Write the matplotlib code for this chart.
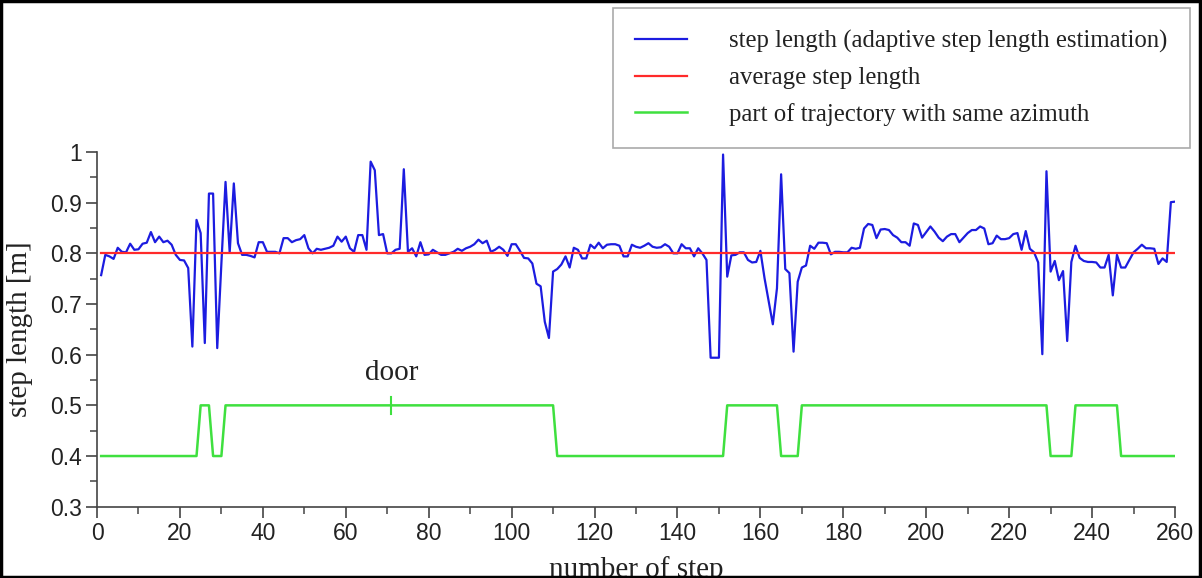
import matplotlib
matplotlib.use("Agg")
import matplotlib.pyplot as plt
from matplotlib.ticker import MultipleLocator, FuncFormatter
from matplotlib.patches import Rectangle

# ---- data ----
steps = list(range(1, 261))
step_length = [
    0.757, 0.797, 0.794, 0.789, 0.811, 0.803, 0.802, 0.819, 0.807, 0.808,
    0.819, 0.821, 0.842, 0.822, 0.833, 0.822, 0.825, 0.817, 0.797, 0.787,
    0.786, 0.771, 0.616, 0.866, 0.840, 0.623, 0.918, 0.918, 0.613, 0.780,
    0.941, 0.802, 0.938, 0.820, 0.797, 0.797, 0.795, 0.792, 0.822, 0.822,
    0.803, 0.803, 0.803, 0.800, 0.830, 0.830, 0.822, 0.826, 0.828, 0.836,
    0.810,
    0.800, 0.809, 0.807, 0.809, 0.811, 0.815, 0.833, 0.823, 0.833, 0.810,
    0.803, 0.836, 0.836, 0.807, 0.981, 0.964, 0.836, 0.838, 0.800, 0.800,
    0.807, 0.809, 0.966, 0.803, 0.810, 0.794, 0.822, 0.797, 0.798, 0.807,
    0.802, 0.797, 0.797, 0.800, 0.803, 0.809, 0.805, 0.810, 0.813, 0.818,
    0.827, 0.820, 0.825, 0.803, 0.807, 0.813, 0.807, 0.795, 0.818, 0.818,
    0.805, 0.791,
    0.790, 0.780, 0.740, 0.735, 0.665, 0.633, 0.764, 0.769, 0.778, 0.794,
    0.772, 0.811, 0.807, 0.790, 0.790, 0.817, 0.810, 0.821, 0.810, 0.817,
    0.818, 0.818, 0.815, 0.794, 0.794, 0.817, 0.813, 0.811, 0.815, 0.820,
    0.813, 0.811, 0.812, 0.818, 0.813, 0.800, 0.800, 0.818, 0.810, 0.810,
    0.794, 0.810, 0.800, 0.787, 0.594, 0.594, 0.594, 0.995, 0.754, 0.796,
    0.797, 0.802,
    0.802, 0.787, 0.782, 0.783, 0.805, 0.751, 0.705, 0.660, 0.731, 0.956,
    0.769, 0.761, 0.606, 0.744, 0.772, 0.776, 0.815, 0.809, 0.821, 0.821,
    0.820, 0.798, 0.803, 0.803, 0.802, 0.802, 0.811, 0.809, 0.811, 0.849,
    0.858, 0.856, 0.830, 0.847, 0.848, 0.846, 0.836, 0.831, 0.822, 0.822,
    0.815, 0.859, 0.856, 0.831, 0.842, 0.853, 0.843, 0.831, 0.824, 0.833,
    0.838,
    0.838, 0.822, 0.831, 0.840, 0.846, 0.846, 0.853, 0.849, 0.818, 0.820,
    0.835, 0.828, 0.828, 0.830, 0.838, 0.840, 0.807, 0.844, 0.809, 0.802,
    0.782, 0.601, 0.962, 0.764, 0.785, 0.747, 0.765, 0.627, 0.783, 0.815,
    0.791, 0.785, 0.783, 0.783, 0.782, 0.772, 0.772, 0.797, 0.717, 0.797,
    0.772, 0.772, 0.787, 0.802, 0.809, 0.817, 0.810, 0.810, 0.809, 0.779,
    0.790, 0.783, 0.901, 0.902,
]
avg_x = [1, 260]
avg_y = [0.8, 0.8]
azimuth_x = [1, 24, 25, 27, 28, 30, 31, 110, 111, 151, 152, 164, 165, 169,
             170, 229, 230, 235, 236, 246, 247, 260]
azimuth_y = [0.4, 0.4, 0.5, 0.5, 0.4, 0.4, 0.5, 0.5, 0.4, 0.4, 0.5, 0.5,
             0.4, 0.4, 0.5, 0.5, 0.4, 0.4, 0.5, 0.5, 0.4, 0.4]
door_step = 71
door_level = 0.5
labels = ["step length (adaptive step length estimation)",
          "average step length",
          "part of trajectory with same azimuth"]

# ---- figure ----
W, H = 1202, 578
fig = plt.figure(figsize=(W / 100, H / 100), dpi=100)
ax = fig.add_axes([97 / W, 1 - 506.7 / H, (1175 - 97) / W, (506.7 - 152) / H])

serif = ["Liberation Serif", "DejaVu Serif"]
sans = ["Liberation Sans", "DejaVu Sans"]

blue, red, green = "#1c1ce0", "#ff2a2a", "#3fe03f"
l1, = ax.plot(steps, step_length, color=blue, lw=1.6)
l2, = ax.plot(avg_x, avg_y, color=red, lw=1.6)
l3, = ax.plot(azimuth_x, azimuth_y, color=green, lw=1.8)
ax.plot([door_step, door_step], [door_level - 0.017, door_level + 0.017],
        color=green, lw=1.5)
ax.text(door_step, door_level + 0.038, "door", ha="center", va="bottom",
        family=serif, fontsize=21, color="#222222")

ax.set_xlim(0, 260)
ax.set_ylim(0.3, 1.0)
ax.xaxis.set_major_locator(MultipleLocator(20))
ax.xaxis.set_minor_locator(MultipleLocator(10))
ax.yaxis.set_major_locator(MultipleLocator(0.1))
ax.yaxis.set_minor_locator(MultipleLocator(0.05))
ax.yaxis.set_major_formatter(FuncFormatter(lambda v, p: "%g" % round(v, 2)))

for s in ["top", "right"]:
    ax.spines[s].set_visible(False)
for s in ["left", "bottom"]:
    ax.spines[s].set_color("#444444")
    ax.spines[s].set_linewidth(1.2)
ax.tick_params(which="major", direction="out", length=8, width=1.2,
               color="#444444", labelsize=16.5, labelcolor="#222222", pad=3)
ax.tick_params(which="minor", direction="out", length=5, width=1.1,
               color="#444444")
for lab in ax.get_xticklabels() + ax.get_yticklabels():
    lab.set_family(sans)

ax.set_ylabel("step length [m]", family=serif, fontsize=21, color="#222222",
              labelpad=12)
ax.set_xlabel("number of step", family=serif, fontsize=21, color="#222222",
              labelpad=8)

leg = fig.legend([l1, l2, l3], labels, loc="upper left",
                 bbox_to_anchor=(613 / W, 1 - 8 / H), frameon=True,
                 fancybox=False, edgecolor="#aaaaaa", framealpha=1,
                 prop={"family": serif, "size": 17.8}, handlelength=2.1,
                 handletextpad=1.7, labelspacing=0.55, borderpad=0.9,
                 borderaxespad=0)
leg.get_frame().set_linewidth(1.2)
for t in leg.get_texts():
    t.set_color("#222222")

fig.patches.append(Rectangle((0.001, 0.002), 0.997, 0.996,
                             transform=fig.transFigure, fill=False,
                             edgecolor="black", lw=2.5))

fig.savefig("out.png", dpi=100)
